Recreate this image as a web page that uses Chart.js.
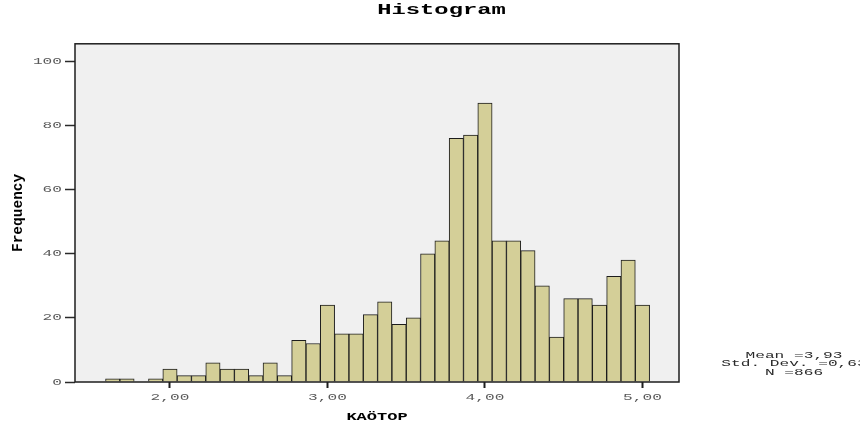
<!DOCTYPE html>
<html>
<head>
<meta charset="utf-8">
<title>Histogram</title>
<script src="https://cdn.jsdelivr.net/npm/chart.js@4/dist/chart.umd.min.js"></script>
<style>
  html, body { margin: 0; padding: 0; background: #ffffff; overflow: hidden; }
  #wrap { width: 860px; height: 434px; overflow: hidden; position: relative; }
  canvas { display: block; }
</style>
</head>
<body>
<div id="wrap"><canvas id="hist" width="883" height="434"></canvas></div>
<script>
// Histogram of KAÖTOP: 38 bins of width 1/11, the first centred at 2 - 4/11
const BIN_WIDTH = 1 / 11;
const FIRST_BIN_CENTER = 2 - 4 * BIN_WIDTH;

// Frequency per bin, left to right
const counts = [
  1, 1, 0, 1, 4, 2, 2, 6, 4, 4,
  2, 6, 2, 13, 12, 24, 15, 15, 21, 25,
  18, 20, 40, 44, 76, 77, 87, 44, 44, 41,
  30, 14, 26, 26, 24, 33, 38, 24
];

// Axis ticks and their printed labels
const xTicks = [2, 3, 4, 5];
const xTickLabels = ['2,00', '3,00', '4,00', '5,00'];
const yTicks = [0, 20, 40, 60, 80, 100];

// Summary statistics printed beside the plot
const statsLines = ['Mean =3,93', 'Std. Dev. =0,63', 'N =866'];

const binCenters = counts.map((_, i) => FIRST_BIN_CENTER + i * BIN_WIDTH);

// Typewriter-style lettering: horizontal text is drawn widened
const STRETCH = 1.7;
function widenText(ctx) {
  const fill = CanvasRenderingContext2D.prototype.fillText;
  const measure = CanvasRenderingContext2D.prototype.measureText;
  ctx.fillText = function (text, x, y) {
    const m = this.getTransform();
    if (Math.abs(m.b) > 1e-6 || Math.abs(m.c) > 1e-6) {
      fill.call(this, text, x, y);
      return;
    }
    this.save();
    this.translate(x, y);
    this.scale(STRETCH, 1);
    fill.call(this, text, 0, 0);
    this.restore();
  };
  ctx.measureText = function (text) {
    const r = measure.call(this, text);
    return {
      width: r.width * STRETCH,
      actualBoundingBoxLeft: r.actualBoundingBoxLeft * STRETCH,
      actualBoundingBoxRight: r.actualBoundingBoxRight * STRETCH,
      actualBoundingBoxAscent: r.actualBoundingBoxAscent,
      actualBoundingBoxDescent: r.actualBoundingBoxDescent,
      fontBoundingBoxAscent: r.fontBoundingBoxAscent,
      fontBoundingBoxDescent: r.fontBoundingBoxDescent
    };
  };
}

const MONO = "'Liberation Mono', 'Courier New', monospace";

// Grey plot panel with a dark frame around it
const plotFrame = {
  id: 'plotFrame',
  beforeDraw(chart, args, opts) {
    const { ctx, chartArea: a } = chart;
    ctx.save();
    ctx.fillStyle = opts.fill;
    ctx.fillRect(a.left, a.top, a.right - a.left, a.bottom - a.top);
    ctx.restore();
  },
  afterDatasetsDraw(chart, args, opts) {
    const { ctx, chartArea: a } = chart;
    ctx.save();
    ctx.strokeStyle = opts.stroke;
    ctx.lineWidth = opts.lineWidth;
    ctx.strokeRect(a.left, a.top, a.right - a.left, a.bottom - a.top);
    ctx.restore();
  }
};

// Statistics block to the right of the plot
const statsBlock = {
  id: 'statsBlock',
  afterDraw(chart, args, opts) {
    const { ctx, chartArea: a } = chart;
    ctx.save();
    ctx.font = opts.font;
    ctx.fillStyle = opts.color;
    ctx.textAlign = 'center';
    ctx.textBaseline = 'alphabetic';
    opts.lines.forEach((line, i) => {
      ctx.fillText(line, a.right + opts.offsetX, opts.top + i * opts.lineHeight);
    });
    ctx.restore();
  }
};

const canvas = document.getElementById('hist');
const ctx = canvas.getContext('2d');
widenText(ctx);

new Chart(ctx, {
  type: 'bar',
  data: {
    datasets: [{
      label: 'Frequency',
      data: counts.map((c, i) => ({ x: binCenters[i], y: c })),
      backgroundColor: 'rgb(212, 207, 152)',
      borderColor: 'rgb(28, 28, 28)',
      borderWidth: 1,
      barPercentage: 1,
      categoryPercentage: 1
    }]
  },
  options: {
    responsive: false,
    animation: false,
    devicePixelRatio: 1,
    layout: { padding: 0 },
    plugins: {
      legend: { display: false },
      tooltip: { enabled: false },
      title: {
        display: true,
        text: 'Histogram',
        color: '#000000',
        font: { family: MONO, size: 14, weight: 'bold', lineHeight: 1.2 },
        padding: { top: 2, bottom: 25 }
      },
      plotFrame: { fill: '#f0f0f0', stroke: '#1e1e1e', lineWidth: 1.5 },
      statsBlock: {
        lines: statsLines,
        font: '9.5px ' + MONO,
        color: '#2a2a2a',
        offsetX: 115,
        top: 358,
        lineHeight: 8.4
      }
    },
    scales: {
      x: {
        type: 'linear',
        position: 'bottom',
        min: 1.397,
        max: 5.232,
        offset: false,
        afterBuildTicks(scale) { scale.ticks = xTicks.map(v => ({ value: v })); },
        afterFit(scale) { scale.height = 52; },
        ticks: {
          callback: (v) => xTickLabels[xTicks.indexOf(v)],
          color: '#5a5a5a',
          font: { family: MONO, size: 9.5, lineHeight: 1.2 },
          padding: 4,
          maxRotation: 0,
          autoSkip: false
        },
        grid: {
          display: true,
          offset: false,
          drawOnChartArea: false,
          drawTicks: true,
          tickLength: 6,
          tickWidth: 2,
          tickColor: '#1e1e1e'
        },
        border: { display: false },
        title: {
          display: true,
          text: 'KAÖTOP',
          color: '#000000',
          font: { family: MONO, size: 10, weight: 'bold', lineHeight: 1.2 },
          padding: { top: 0, bottom: 11 }
        }
      },
      y: {
        type: 'linear',
        position: 'left',
        min: 0,
        max: 105.5,
        afterBuildTicks(scale) { scale.ticks = yTicks.map(v => ({ value: v })); },
        afterFit(scale) { scale.width = 75; },
        ticks: {
          callback: (v) => String(v),
          color: '#5a5a5a',
          font: { family: MONO, size: 9.5, lineHeight: 1.2 },
          padding: 3
        },
        grid: {
          display: true,
          drawOnChartArea: false,
          drawTicks: true,
          tickLength: 10,
          tickWidth: 1.5,
          tickColor: '#2a2a2a'
        },
        border: { display: false },
        title: {
          display: true,
          text: 'Frequency',
          color: '#000000',
          font: { family: MONO, size: 14.5, weight: 'bold', lineHeight: 1.2 },
          padding: { top: 10, bottom: 0 }
        }
      },
      side: {
        type: 'linear',
        position: 'right',
        min: 0,
        max: 1,
        afterFit(scale) { scale.width = 204; },
        ticks: { display: false },
        grid: { display: false },
        border: { display: false }
      }
    }
  },
  plugins: [plotFrame, statsBlock]
});
</script>
</body>
</html>
